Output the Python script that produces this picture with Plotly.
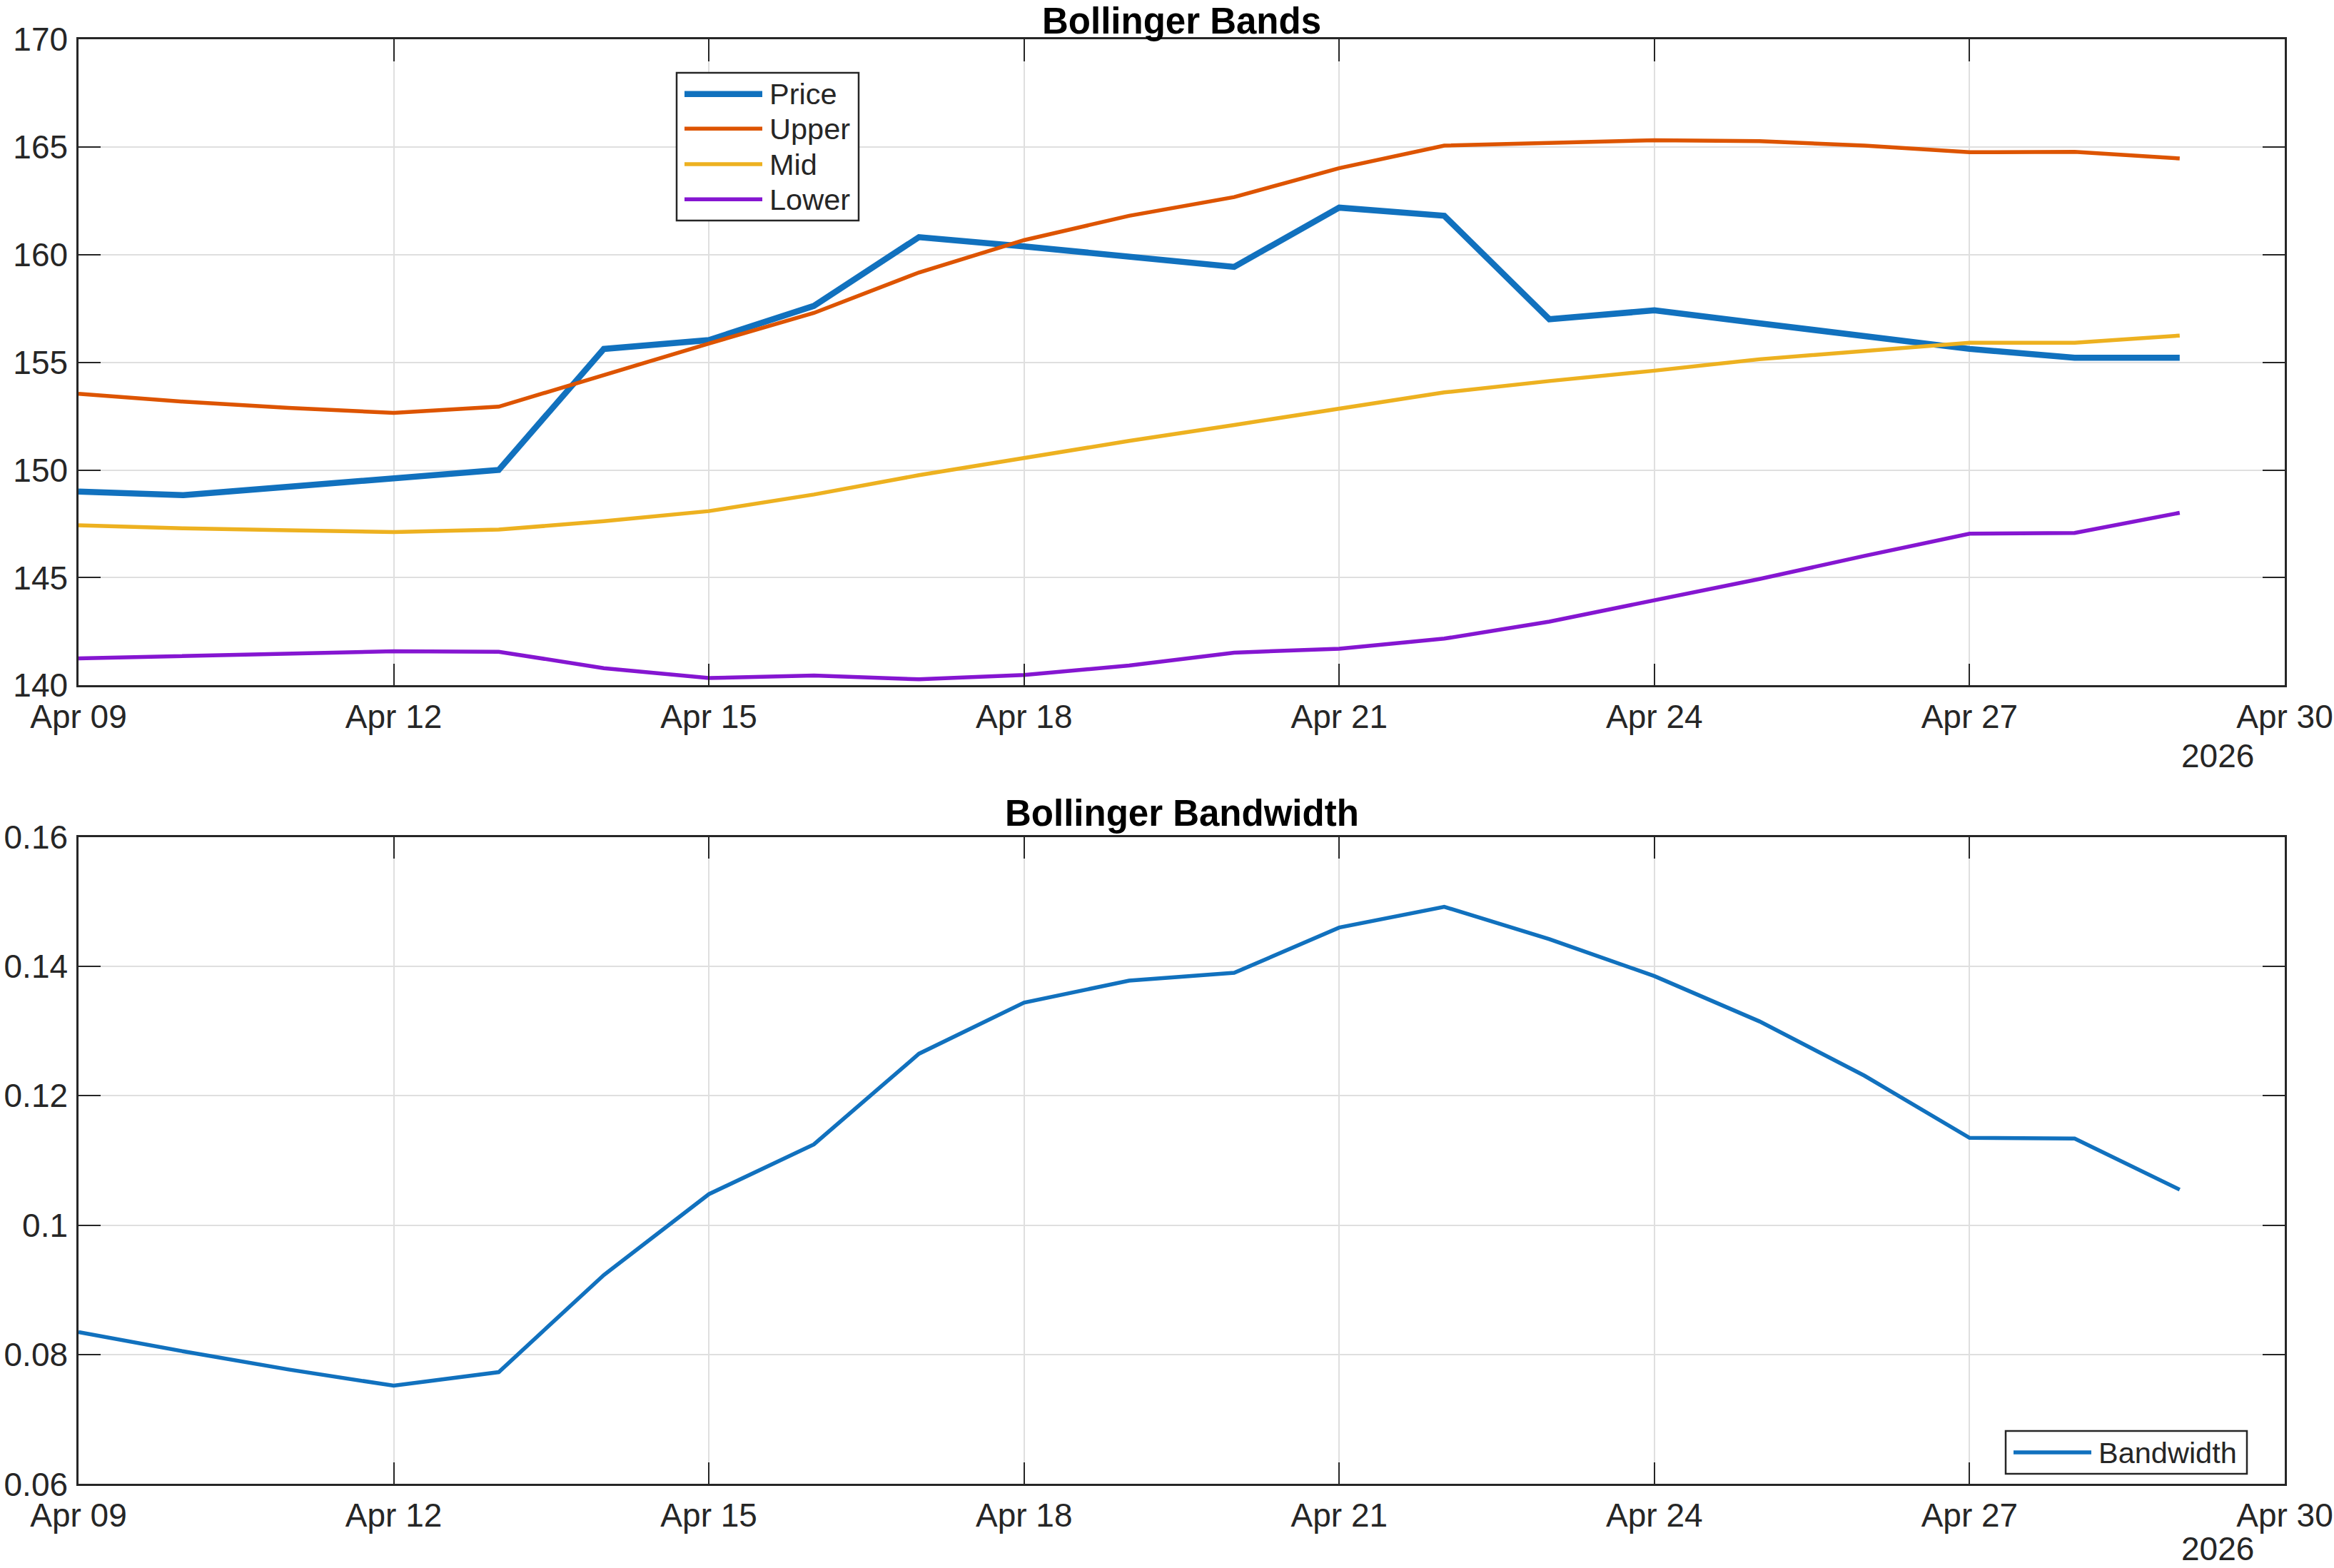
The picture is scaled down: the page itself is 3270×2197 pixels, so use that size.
import plotly.graph_objects as go

# ---------------- data ----------------
dates = ["2026-04-09", "2026-04-10", "2026-04-11", "2026-04-12", "2026-04-13",
         "2026-04-14", "2026-04-15", "2026-04-16", "2026-04-17", "2026-04-18",
         "2026-04-19", "2026-04-20", "2026-04-21", "2026-04-22", "2026-04-23",
         "2026-04-24", "2026-04-25", "2026-04-26", "2026-04-27", "2026-04-28",
         "2026-04-29"]
price = [149.0, 148.83, 149.22, 149.6, 150.0, 155.62, 156.03, 157.62, 160.81, 160.38,
         159.9, 159.43, 162.18, 161.8, 157.0, 157.41, 156.81, 156.2, 155.62, 155.21, 155.21]
upper = [153.54, 153.17, 152.88, 152.65, 152.94, 154.42, 155.87, 157.29, 159.17, 160.67,
         161.8, 162.67, 164.01, 165.06, 165.2, 165.31, 165.27, 165.06, 164.75, 164.77, 164.46]
mid = [147.43, 147.29, 147.2, 147.12, 147.23, 147.62, 148.09, 148.86, 149.76, 150.57,
       151.35, 152.09, 152.86, 153.6, 154.13, 154.61, 155.14, 155.54, 155.91, 155.91, 156.24]
lower = [141.25, 141.37, 141.47, 141.58, 141.56, 140.8, 140.34, 140.46, 140.28, 140.48,
         140.92, 141.52, 141.7, 142.17, 142.96, 143.93, 144.94, 146.01, 147.04, 147.08, 148.01]
bandwidth = [0.0835, 0.0805, 0.0777, 0.0752, 0.0773, 0.0923, 0.1048, 0.1125, 0.1265, 0.1344,
             0.1378, 0.1390, 0.1460, 0.1492, 0.1442, 0.1385, 0.1315, 0.1231, 0.1135, 0.1134, 0.1055]

band_series = ["Price", "Upper", "Mid", "Lower"]
bw_series = ["Bandwidth"]
titles = ["Bollinger Bands", "Bollinger Bandwidth"]
year_label = "2026"
y1_ticks = [140, 145, 150, 155, 160, 165, 170]
y1_text = ["140", "145", "150", "155", "160", "165", "170"]
y2_ticks = [0.06, 0.08, 0.10, 0.12, 0.14, 0.16]
y2_text = ["0.06", "0.08", "0.1", "0.12", "0.14", "0.16"]
x_range = ["2026-04-09", "2026-04-30"]

# ---------------- style ----------------
C_PRICE = "#1171BE"
C_UPPER = "#DD5400"
C_MID = "#EDB120"
C_LOWER = "#8516D1"
AX = "#262626"
TXT = "#262626"
GRID = "#DFDFDF"
FONT = "Liberation Sans, Arial, Helvetica, sans-serif"

W, H = 3270, 2197
L, R = 110, 69
PW = W - L - R


def px2x(px):
    return (px - L) / PW


def py2y(py):
    return 1 - py / H


top_dom = [py2y(960.3), py2y(54.9)]
bot_dom = [py2y(2079.4), py2y(1172.7)]

fig = go.Figure()
series = [(price, C_PRICE, 8.5), (upper, C_UPPER, 5.5), (mid, C_MID, 5.5), (lower, C_LOWER, 5.5)]
for name, (vals, col, lw) in zip(band_series, series):
    fig.add_trace(go.Scatter(x=dates, y=vals, mode="lines", name=name,
                             line=dict(color=col, width=lw), xaxis="x", yaxis="y",
                             showlegend=False))
fig.add_trace(go.Scatter(x=dates, y=bandwidth, mode="lines", name=bw_series[0],
                         line=dict(color=C_PRICE, width=5.5), xaxis="x2", yaxis="y2",
                         showlegend=False))

common = dict(showline=True, linecolor=AX, linewidth=2.5, mirror="ticks",
              ticks="inside", ticklen=31, tickwidth=2, tickcolor=AX,
              showgrid=True, gridcolor=GRID, gridwidth=2, zeroline=False,
              automargin=False,
              tickfont=dict(family=FONT, size=46, color=TXT))

xcommon = dict(common, type="date", range=x_range, tick0=x_range[0],
               dtick=3 * 86400000, tickformat="%b %d", ticklabelstandoff=2)

fig.update_layout(
    width=W, height=H, autosize=False,
    margin=dict(l=L, r=R, t=0, b=0, pad=0, autoexpand=False),
    paper_bgcolor="white", plot_bgcolor="white",
    showlegend=False,
    xaxis=dict(xcommon, domain=[0, 1], anchor="y"),
    yaxis=dict(common, domain=top_dom, range=[140, 170], tickvals=y1_ticks,
               ticktext=y1_text, anchor="x", ticklabelstandoff=3),
    xaxis2=dict(xcommon, domain=[0, 1], anchor="y2"),
    yaxis2=dict(common, domain=bot_dom, range=[0.06, 0.16], tickvals=y2_ticks,
                ticktext=y2_text, anchor="x2", ticklabelstandoff=3),
)

ann = []
shapes = []
# titles
ann.append(dict(text="<b>%s</b>" % titles[0], x=0.5, y=py2y(29.5), xref="paper", yref="paper",
                xanchor="center", yanchor="middle", showarrow=False, borderpad=0,
                font=dict(family=FONT, size=51, color="#000000")))
ann.append(dict(text="<b>%s</b>" % titles[1], x=0.5, y=py2y(1139), xref="paper", yref="paper",
                xanchor="center", yanchor="middle", showarrow=False, borderpad=0,
                font=dict(family=FONT, size=51, color="#000000")))
# year labels
for yy in (1059, 2170):
    ann.append(dict(text=year_label, x=px2x(3107), y=py2y(yy), xref="paper", yref="paper",
                    xanchor="center", yanchor="middle", showarrow=False, borderpad=0,
                    font=dict(family=FONT, size=46, color=TXT)))

# legend (top)
shapes.append(dict(type="rect", xref="paper", yref="paper",
                   x0=px2x(948), x1=px2x(1203), y0=py2y(309), y1=py2y(102),
                   line=dict(color=AX, width=2.5), fillcolor="white", layer="above"))
rows = [131.7, 180.3, 230, 279.3]
for name, (vals, col, lw), ry in zip(band_series, series, rows):
    shapes.append(dict(type="line", xref="paper", yref="paper",
                       x0=px2x(959), x1=px2x(1068), y0=py2y(ry), y1=py2y(ry),
                       line=dict(color=col, width=lw), layer="above"))
    ann.append(dict(text=name, x=px2x(1076), y=py2y(ry), xref="paper", yref="paper",
                    xanchor="left", yanchor="middle", showarrow=False,
                    font=dict(family=FONT, size=41.5, color=TXT)))

# legend (bottom)
shapes.append(dict(type="rect", xref="paper", yref="paper",
                   x0=px2x(2810), x1=px2x(3148), y0=py2y(2065), y1=py2y(2005),
                   line=dict(color=AX, width=2.5), fillcolor="white", layer="above"))
shapes.append(dict(type="line", xref="paper", yref="paper",
                   x0=px2x(2821), x1=px2x(2930), y0=py2y(2035), y1=py2y(2035),
                   line=dict(color=C_PRICE, width=5.5), layer="above"))
ann.append(dict(text=bw_series[0], x=px2x(2938), y=py2y(2035), xref="paper", yref="paper",
                xanchor="left", yanchor="middle", showarrow=False,
                font=dict(family=FONT, size=41.5, color=TXT)))

fig.update_layout(annotations=ann, shapes=shapes)
fig.write_html("out.html")
